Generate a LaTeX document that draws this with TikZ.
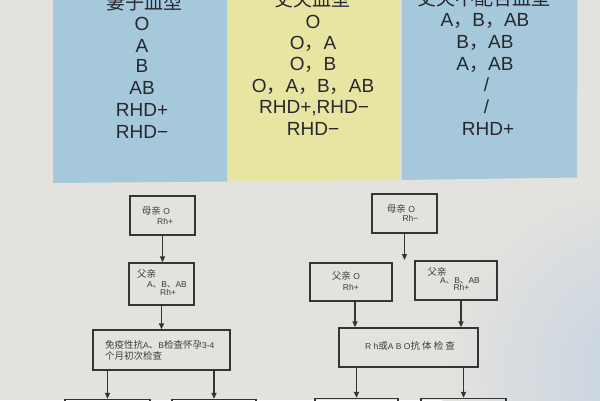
\documentclass[tikz,border=0pt]{standalone}
\usepackage{fontspec}
\setmainfont{Liberation Sans}
\newfontfamily\cjk{Noto Sans CJK SC}
\usetikzlibrary{arrows.meta}
\definecolor{bgc}{RGB}{228,226,222}
\definecolor{bgblue}{RGB}{198,212,226}
\definecolor{bluec}{RGB}{166,200,219}
\definecolor{yelc}{RGB}{232,229,162}
\definecolor{inkc}{RGB}{38,40,46}
\definecolor{finkc}{RGB}{60,60,64}
\definecolor{linec}{RGB}{52,52,54}
\newcommand\zc{{\cjk ，}}
\newcommand\dn{{\cjk 、}}
\newcommand\zh[1]{{\cjk\fontsize{9.5}{10}\selectfont #1}}
\begin{document}
\begin{tikzpicture}[x=1pt,y=-1pt,
  tbl/.style={anchor=base,text=inkc,font=\fontsize{19}{20}\selectfont,inner sep=0pt},
  hdr/.style={anchor=base,text=inkc,font=\cjk\fontsize{19}{20}\selectfont,inner sep=0pt},
  fbox/.style={draw=linec,line width=1.3pt,rectangle,inner sep=0pt},
  ftxt/.style={anchor=base west,inner sep=0pt,text=finkc,font=\fontsize{8.5}{9}\selectfont},
  arr/.style={draw=linec,line width=1.2pt,-{Triangle[length=6pt,width=5pt]}}
]
\useasboundingbox (0,0) rectangle (600,400);
\clip (0,0) rectangle (600,400);
% background
\fill[bgc] (0,0) rectangle (600,400);
\shade[inner color=bgblue,outer color=bgc] (640,370) circle (200);
% table columns
\fill[bluec] (53,-1) -- (227,-1) -- (227,181.5) -- (53,183) -- cycle;
\fill[yelc] (227.5,-1) -- (400,-1) -- (400,180) -- (227.5,181.5) -- cycle;
\fill[bluec] (401.5,-1) -- (577.5,-1) -- (577,177.5) -- (401.5,180) -- cycle;
% column 1
\node[hdr] (h1) at (144,9) {妻子血型};
\node[tbl] (a1) at (142,30) {O};
\node[tbl] (a2) at (142,52) {A};
\node[tbl] (a3) at (142,72.7) {B};
\node[tbl] (a4) at (142,94.3) {AB};
\node[tbl] (a5) at (142,116.7) {RHD+};
\node[tbl] (a6) at (142,138.3) {RHD−};
% column 2
\node[hdr] (h2) at (312,6.5) {丈夫血型};
\node[tbl] (b1) at (313,28.3) {O};
\node[tbl] (b2) at (313,49.5) {O\zc A};
\node[tbl] (b3) at (313,70.7) {O\zc B};
\node[tbl] (b4) at (313,92) {O\zc A\zc B\zc AB};
\node[tbl] (b5) at (314,113.3) {RHD+,RHD−};
\node[tbl] (b6) at (313,135) {RHD−};
% column 3
\node[hdr] (h3) at (484,5) {丈夫不配合血型};
\node[tbl] (c1) at (485,26.7) {A\zc B\zc AB};
\node[tbl] (c2) at (485,48.3) {B\zc AB};
\node[tbl] (c3) at (485,70) {A\zc AB};
\node[tbl] (c4) at (486.5,91.7) {/};
\node[tbl] (c5) at (486.5,113.3) {/};
\node[tbl] (c6) at (488,135) {RHD+};
% left flowchart
\node[fbox,minimum width=65pt,minimum height=39pt] (L1) at (162.5,215.5) {};
\node[ftxt] (L1a) at (141.7,214.5) {\zh{母亲} O};
\node[ftxt] (L1b) at (157,224.3) {Rh+};
\node[fbox,minimum width=65pt,minimum height=42pt] (L2) at (161.5,284) {};
\node[ftxt] (L2a) at (137,277.5) {\zh{父亲}};
\node[ftxt] (L2b) at (147,287.5) {A\dn B\dn AB};
\node[ftxt] (L2c) at (160,295.5) {Rh+};
\node[fbox,minimum width=137pt,minimum height=40pt] (L3) at (161.5,350) {};
\node[ftxt] (L3a) at (105,348.5) {\zh{免疫性抗}A\zh{、}B\zh{检查怀孕}3-4};
\node[ftxt] (L3b) at (105,359.5) {\zh{个月初次检查}};
\node[fbox,minimum width=85pt,minimum height=30pt] (LB1) at (107.5,414.5) {};
\node[fbox,minimum width=84pt,minimum height=30pt] (LB2) at (214,414.5) {};
\draw[arr] (L1.south) -- (L1.south |- L2.north);
\draw[arr] (L2.south) -- (L2.south |- L3.north);
\draw[arr] (L3.south -| LB1) -- (LB1.north);
\draw[arr] (L3.south -| LB2) -- (LB2.north);
% right flowchart
\node[fbox,minimum width=65pt,minimum height=39pt] (R1) at (404.5,213.5) {};
\node[ftxt] (R1a) at (386.7,212.5) {\zh{母亲} O};
\node[ftxt] (R1b) at (402.3,221.5) {Rh−};
\coordinate (R1end) at (404.5,260);
\node[fbox,minimum width=82pt,minimum height=38pt] (R2) at (351,282) {};
\node[ftxt] (R2a) at (331.7,279) {\zh{父亲} O};
\node[ftxt] (R2b) at (342.7,290.5) {Rh+};
\node[fbox,minimum width=82pt,minimum height=39pt] (R3) at (456,280.5) {};
\node[ftxt] (R3a) at (427.3,275) {\zh{父亲}};
\node[ftxt] (R3b) at (440,283) {A\dn B\dn AB};
\node[ftxt] (R3c) at (453.3,290.5) {Rh+};
\node[fbox,minimum width=139pt,minimum height=39pt] (R4) at (408.5,347.5) {};
\node[anchor=center,inner sep=0pt,text=finkc,font=\fontsize{8.5}{9}\selectfont] (R4a) at (410,345.5) {R h\zh{或}A B O\zh{抗 体 检 查}};
\node[fbox,minimum width=83pt,minimum height=30pt] (RB1) at (356.5,413.5) {};
\node[fbox,minimum width=85pt,minimum height=30pt] (RB2) at (463.5,413.5) {};
\draw[arr] (R1.south) -- (R1end);
\draw[arr] ([xshift=4pt]R2.south) -- ([xshift=4pt]R2.south |- R4.north);
\draw[arr] ([xshift=5pt]R3.south) -- ([xshift=5pt]R3.south |- R4.north);
\draw[arr] (R4.south -| RB1) -- (RB1.north);
\draw[arr] (R4.south -| RB2) -- (RB2.north);
\end{tikzpicture}
\end{document}
